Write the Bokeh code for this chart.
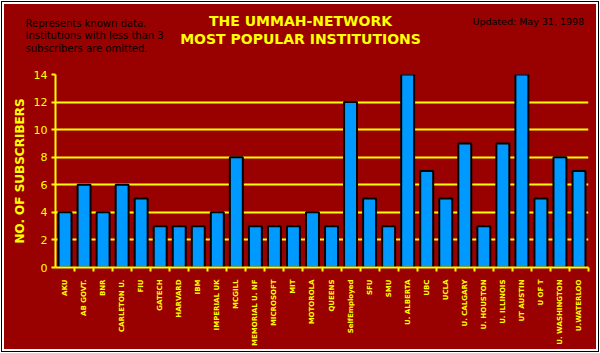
from bokeh.plotting import figure
from bokeh.layouts import column, row
from bokeh.models import FixedTicker, Label, ColumnDataSource, Range1d
from bokeh.embed import file_html
from bokeh.resources import INLINE

institutions = ["AKU", "AB GOVT.", "BNR", "CARLETON U.", "FIU", "GATECH", "HARVARD",
                "IBM", "IMPERIAL UK", "MCGILL", "MEMORIAL U. NF", "MICROSOFT", "MIT",
                "MOTOROLA", "QUEENS", "SelfEmployed", "SFU", "SMU", "U. ALBERTA", "UBC",
                "UCLA", "U. CALGARY", "U. HOUSTON", "U. ILLINOIS", "UT AUSTIN", "U OF T",
                "U. WASHINGTON", "U.WATERLOO"]
subscribers = [4, 6, 4, 6, 5, 3, 3, 3, 4, 8, 3, 3, 3, 4, 3, 12, 5, 3, 14, 7, 5, 9, 3, 9,
               14, 5, 8, 7]
y_ticks = [0, 2, 4, 6, 8, 10, 12, 14]
title_lines = ["THE UMMAH-NETWORK", "MOST POPULAR INSTITUTIONS"]
note_lines = ["Represents known data.", "Institutions with less than 3",
              "subscribers are omitted."]
updated = "Updated: May 31, 1998"

RED = "#990000"
YEL = "#ffff00"
W = 592
HEAD_H = 64

# ---------- header (titles and notes) ----------
head = figure(width=W, height=HEAD_H, output_backend="svg", toolbar_location=None,
              x_range=Range1d(0, W), y_range=Range1d(0, HEAD_H),
              x_axis_type=None, y_axis_type=None,
              background_fill_color=RED, border_fill_color=RED, min_border=0)
head.outline_line_color = None
head.grid.grid_line_color = None

for txt, yy in zip(title_lines, [48, 30]):
    head.add_layout(Label(x=296, y=yy, text=txt, text_align="center",
                          text_baseline="middle", text_color=YEL,
                          text_font="DejaVu Sans", text_font_size="14px",
                          text_font_style="bold"))
for t, yy in zip(note_lines, [45.3, 33, 20.3]):
    head.add_layout(Label(x=21, y=yy, text=t, text_align="left",
                          text_baseline="middle", text_color="black",
                          text_font="DejaVu Sans", text_font_size="10px"))
head.add_layout(Label(x=468, y=47, text=updated, text_align="left",
                      text_baseline="middle", text_color="black",
                      text_font="DejaVu Sans", text_font_size="9.5px"))

# ---------- main chart ----------
n = len(institutions)
xs = [i + 0.5 for i in range(n)]
src = ColumnDataSource(dict(x=xs, top=subscribers, name=institutions))

p = figure(width=W, height=345 - HEAD_H, output_backend="svg", toolbar_location=None,
           x_range=Range1d(0, n), y_range=Range1d(0, 14),
           background_fill_color=RED, border_fill_color=RED,
           min_border_left=51, min_border_right=8, min_border_top=6, min_border_bottom=82)
p.outline_line_color = None

p.vbar(x="x", top="top", width=0.68, source=src, fill_color="#0099ff",
       line_color="black", line_width=2)

p.xaxis.ticker = FixedTicker(ticks=xs, minor_ticks=list(range(1, n + 1)))
p.xaxis.major_label_overrides = {x: nm for x, nm in zip(xs, institutions)}
p.xaxis.major_label_orientation = 3.14159265 / 2
p.xaxis.major_tick_line_color = None
p.xaxis.minor_tick_line_color = YEL
p.xaxis.minor_tick_in = 0
p.xaxis.minor_tick_out = 4
p.xaxis.minor_tick_line_width = 2
p.xaxis.axis_line_color = YEL
p.xaxis.axis_line_width = 2
p.xaxis.major_label_text_color = YEL
p.xaxis.major_label_text_font = "DejaVu Sans"
p.xaxis.major_label_text_font_size = "7px"
p.xaxis.major_label_text_font_style = "bold"
p.xaxis.major_label_standoff = 6

p.yaxis.ticker = FixedTicker(ticks=y_ticks)
p.yaxis.minor_tick_line_color = None
p.yaxis.major_tick_in = 0
p.yaxis.major_tick_out = 4
p.yaxis.major_tick_line_color = YEL
p.yaxis.major_tick_line_width = 2
p.yaxis.axis_line_color = YEL
p.yaxis.axis_line_width = 2
p.yaxis.major_label_text_color = YEL
p.yaxis.major_label_text_font = "DejaVu Sans"
p.yaxis.major_label_text_font_size = "11px"
p.yaxis.major_label_standoff = 4
p.yaxis.axis_label = "NO. OF SUBSCRIBERS"
p.yaxis.axis_label_text_color = YEL
p.yaxis.axis_label_text_font = "DejaVu Sans"
p.yaxis.axis_label_text_font_size = "12px"
p.yaxis.axis_label_text_font_style = "bold"
p.yaxis.axis_label_standoff = 4

p.xgrid.grid_line_color = None
p.ygrid.grid_line_color = YEL
p.ygrid.grid_line_width = 2

layout = column(row(head), row(p), spacing=0)
layout.margin = (4, 4, 4, 4)
layout.styles = {"box-shadow": "0 0 0 2px white, 0 0 0 3px black",
                 "background-color": RED}

open("out.html", "w").write(file_html(layout, INLINE))
